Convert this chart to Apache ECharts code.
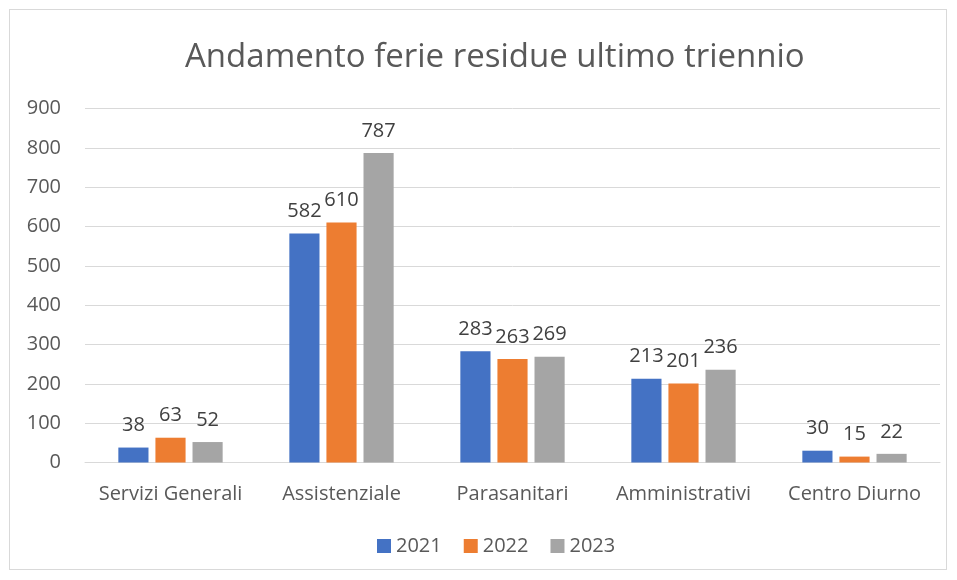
<!DOCTYPE html>
<html><head><meta charset="utf-8">
<script src="https://cdn.jsdelivr.net/npm/echarts@6/dist/echarts.min.js"></script>
<style>html,body{margin:0;padding:0;background:#fff}#c{width:957px;height:580px}
#frame{position:absolute;left:9px;top:9px;width:938px;height:561px;border:1px solid #d9d9d9;box-sizing:border-box;pointer-events:none}</style>
</head><body><div id="c"></div><div id="frame"></div>
<script>
const categories = ['Servizi Generali','Assistenziale','Parasanitari','Amministrativi','Centro Diurno'];
const seriesNames = ['2021','2022','2023'];
const v2021 = [38,582,283,213,30];
const v2022 = [63,610,263,201,15];
const v2023 = [52,787,269,236,22];
const colors = ['#4472C4','#ED7D31','#A5A5A5'];
const FONT = 'Open Sans';
const chart = echarts.init(document.getElementById('c'));
const data = [v2021,v2022,v2023];
chart.setOption({
  animation:false,
  textStyle:{fontFamily:FONT},
  title:{text:'Andamento ferie residue ultimo triennio',left:180,top:36,
    textStyle:{fontFamily:FONT,fontSize:33,fontWeight:'normal',color:'#595959'}},
  legend:{bottom:19,left:372,itemWidth:14,itemHeight:14,itemGap:22,icon:'rect',
    textStyle:{fontFamily:FONT,fontSize:20,color:'#595959'}},
  grid:{left:85,right:17,top:108.5,bottom:117.5},
  xAxis:{type:'category',data:categories,
    axisLine:{lineStyle:{color:'#d9d9d9'}},axisTick:{show:false},
    axisLabel:{fontFamily:FONT,fontSize:20,color:'#595959',margin:22,interval:0}},
  yAxis:{type:'value',min:0,max:900,interval:100,
    axisLine:{show:false},axisTick:{show:false},
    splitLine:{lineStyle:{color:'#d9d9d9'}},
    axisLabel:{fontFamily:FONT,fontSize:20,color:'#595959',margin:24}},
  series: seriesNames.map((n,i)=>({
    name:n,type:'bar',data:data[i],barGap:'23%',barCategoryGap:'39%',
    itemStyle:{color:colors[i]},
    label:{show:true,position:'top',distance:12,fontFamily:FONT,fontSize:20,color:'#404040'}
  }))
});
</script></body></html>
